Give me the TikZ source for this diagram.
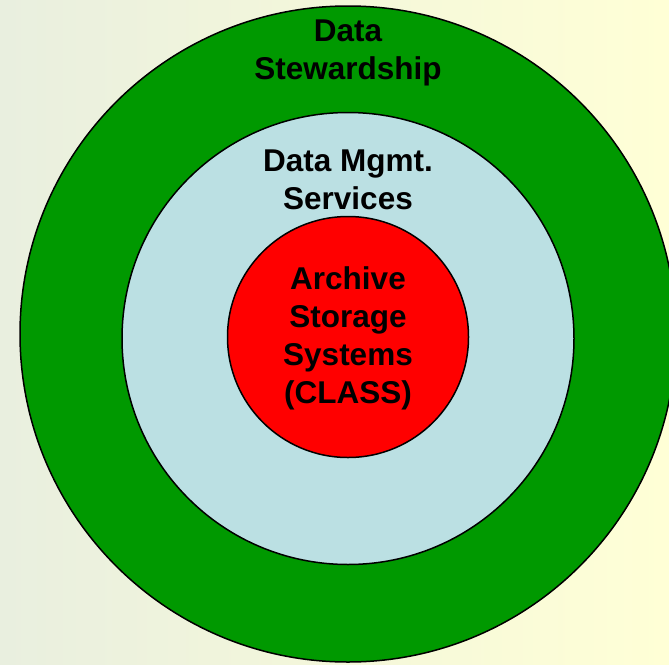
\documentclass[tikz,border=0pt]{standalone}
\usepackage{fontspec}
\setmainfont{Liberation Sans}
\definecolor{stewgreen}{HTML}{009900}
\definecolor{svcblue}{HTML}{BBE0E3}
\definecolor{archred}{HTML}{FF0000}
\definecolor{bgleft}{HTML}{E9EFDF}
\definecolor{bgright}{HTML}{FFFFD6}
\tikzset{
  ring/.style={shape=circle,draw=black,line width=1.5pt,inner sep=0pt},
  ringtext/.style={align=center,anchor=base,font=\fontsize{31.5}{38}\selectfont\bfseries}
}
\begin{document}
\begin{tikzpicture}[x=1pt,y=-1pt]
\useasboundingbox (0,0) rectangle (669,664);
\clip (0,0) rectangle (669,664);
\shade[left color=bgleft,right color=bgright] (0,0) rectangle (669,664);
\node[ring,fill=stewgreen,minimum size=656pt] (S) at (348,334) {};
\node[ring,fill=svcblue,minimum size=452pt] (M) at (348,338.5) {};
\node[ring,fill=archred,minimum size=241pt] (A) at (348,337) {};
\node[ringtext] (St) at (348,79.5) {Data\\Stewardship};
\node[ringtext] (Mt) at (348,209) {Data Mgmt.\\Services};
\node[ringtext] (At) at (348,403) {Archive\\Storage\\Systems\\(CLASS)};
\end{tikzpicture}
\end{document}
